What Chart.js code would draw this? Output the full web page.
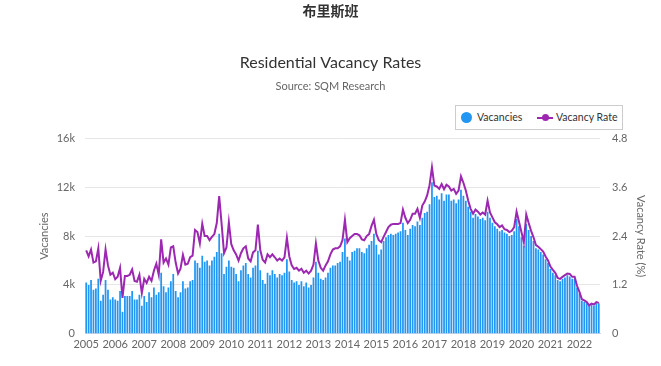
<!DOCTYPE html>
<html>
<head>
<meta charset="utf-8">
<script src="https://cdn.jsdelivr.net/npm/chart.js@4.4.0/dist/chart.umd.min.js"></script>
<style>
    body { margin: 0; background: #fff; }
    #wrap { position: relative; width: 661px; height: 366px; overflow: hidden; }
    #heading {
        position: absolute; left: 0; top: 0; width: 661px; text-align: center;
        font: bold 14px "Noto Sans CJK SC", sans-serif; color: #333;
    }
    #legend {
        position: absolute; left: 455px; top: 105px; width: 166px; height: 23px;
        border: 1px solid #ccc; background: #fff;
        font: 10.5px Lato, sans-serif; color: #333;
    }
    .item { position: absolute; top: 5px; line-height: 13px; white-space: nowrap; }
    .dot { position: absolute; border-radius: 50%; }
    .seg { position: absolute; height: 2px; }
</style>
</head>
<body>
<div id="wrap">
    <canvas id="chart" width="661" height="366"></canvas>
    <div id="heading">布里斯班</div>
    <div id="legend">
        <span class="dot" style="left:5px;top:6px;width:11px;height:11px;background:#2196f3"></span>
        <span class="item" style="left:21px">Vacancies</span>
        <span class="seg" style="left:81px;top:11px;width:16px;background:#9c27b0"></span>
        <span class="dot" style="left:85.5px;top:8px;width:7px;height:7px;background:#9c27b0"></span>
        <span class="item" style="left:100px">Vacancy Rate</span>
    </div>
</div>
<script>
// 축 눈금 라벨 (연도)
const years = ['2005', '2006', '2007', '2008', '2009', '2010', '2011', '2012', '2013',
    '2014', '2015', '2016', '2017', '2018', '2019', '2020', '2021', '2022'];

// 공실 수 (월별, 2005-01 ~ 2022-09)
const vacancies = [
    4200, 4000, 4400, 3600, 3700, 4500, 2700, 3200, 4400, 3600, 2800, 3000,
    2800, 2700, 3500, 1800, 3100, 3100, 3100, 3500, 2800, 2800, 3200, 2300,
    3100, 2600, 3400, 3000, 3800, 3200, 3400, 5000, 3900, 3400, 3800, 4300,
    4900, 3500, 3000, 3400, 4300, 3700, 3800, 4300, 4400, 6000, 5800, 5400,
    6400, 5900, 6000, 5600, 6000, 6300, 6700, 8200, 6600, 4900, 5500, 6000,
    5500, 5400, 4900, 4300, 5200, 5600, 5800, 4900, 4600, 5400, 5600, 6800,
    5200, 4400, 4100, 5000, 4800, 5200, 4900, 4600, 4900, 4800, 5000, 6100,
    5100, 4400, 4200, 4300, 4000, 4300, 3900, 4200, 3800, 4000, 4600, 5900,
    5000, 4500, 4400, 4600, 5000, 5400, 5600, 5600, 5800, 5900, 6700, 7800,
    6300, 6000, 6700, 6800, 7000, 7000, 6700, 6600, 7000, 7300, 7600, 8200,
    7300, 6500, 6900, 7600, 7900, 8100, 8200, 8100, 8200, 8300, 8400, 9100,
    8500, 8100, 8600, 8900, 8800, 9200, 8900, 9500, 9900, 10000, 10600, 12400,
    11200, 11300, 11000, 11500, 10900, 11400, 11400, 10900, 11000, 10700, 11000, 11800,
    11300, 10900, 10400, 10000, 9500, 9800, 9600, 9400, 9500, 9300, 10000, 9500,
    9100, 8800, 8600, 8400, 8500, 8300, 8200, 8000, 8100, 8400, 9400, 8800,
    7900, 7200, 9000, 8500, 8000, 7600, 7000, 6900, 6700, 6500, 6100, 5800,
    5300, 5000, 4800, 4400, 4300, 4500, 4600, 4800, 4700, 4500, 4500, 3800,
    3300, 2700, 2600, 2500, 2300, 2400, 2300, 2500, 2500
];

// 공실률 (%)
const vacancyRate = [
    2.05, 1.90, 2.07, 1.75, 1.78, 2.10, 1.30, 1.52, 2.07, 1.68, 1.45, 1.50,
    1.34, 1.40, 1.62, 0.88, 1.42, 1.42, 1.45, 1.58, 1.30, 1.28, 1.45, 1.00,
    1.35, 1.25, 1.40, 1.30, 1.55, 1.72, 1.45, 2.32, 1.75, 1.85, 1.70, 2.12,
    2.15, 1.75, 1.48, 1.60, 1.94, 1.70, 1.72, 1.88, 1.92, 2.55, 2.50, 2.22,
    2.70, 2.40, 2.40, 2.30, 2.38, 2.45, 2.72, 3.38, 2.70, 1.98, 2.12, 2.74,
    2.20, 2.05, 1.95, 1.80, 1.98, 2.10, 2.15, 1.85, 1.78, 2.00, 2.05, 2.68,
    2.05, 1.82, 1.75, 1.95, 1.88, 1.95, 1.88, 1.80, 1.85, 1.80, 1.88, 2.36,
    1.90, 1.68, 1.59, 1.62, 1.55, 1.60, 1.50, 1.55, 1.48, 1.55, 1.70, 2.22,
    1.80, 1.62, 1.55, 1.68, 1.78, 1.95, 2.07, 2.10, 2.10, 2.15, 2.30, 2.80,
    2.25, 2.35, 2.40, 2.45, 2.45, 2.42, 2.32, 2.30, 2.40, 2.45, 2.65, 2.80,
    2.45, 2.30, 2.25, 2.38, 2.50, 2.62, 2.68, 2.70, 2.70, 2.70, 2.72, 3.05,
    2.85, 2.72, 2.80, 2.95, 2.95, 3.07, 2.85, 3.15, 3.25, 3.40, 3.65, 4.09,
    3.64, 3.62, 3.56, 3.68, 3.55, 3.66, 3.62, 3.52, 3.56, 3.44, 3.52, 3.87,
    3.71, 3.52, 3.27, 3.07, 2.95, 3.05, 3.00, 2.93, 2.98, 2.93, 3.27, 2.98,
    2.86, 2.74, 2.69, 2.62, 2.66, 2.57, 2.55, 2.50, 2.53, 2.62, 3.00, 2.75,
    2.50, 2.25, 2.93, 2.72, 2.53, 2.37, 2.18, 2.14, 2.08, 2.02, 1.90, 1.80,
    1.65, 1.57, 1.50, 1.37, 1.35, 1.40, 1.44, 1.48, 1.47, 1.40, 1.40, 1.18,
    1.03, 0.85, 0.82, 0.78, 0.70, 0.74, 0.72, 0.78, 0.76
];

// 월별 카테고리 생성
const months = [];
years.forEach(y => {
    for (let m = 1; m <= 12; m++) months.push(y + '-' + (m < 10 ? '0' + m : m));
});
const labels = months.slice(0, vacancies.length);

const tickFont = { family: 'Lato, sans-serif', size: 11 };

new Chart(document.getElementById('chart'), {
    data: {
        labels: labels,
        datasets: [{
            type: 'line',
            label: 'Vacancy Rate',
            data: vacancyRate,
            yAxisID: 'y1',
            borderColor: '#9c27b0',
            borderWidth: 2,
            pointRadius: 0,
            tension: 0,
            order: 0
        }, {
            type: 'bar',
            label: 'Vacancies',
            data: vacancies,
            yAxisID: 'y',
            backgroundColor: '#2196f3',
            barPercentage: 0.72,
            categoryPercentage: 1,
            order: 1
        }]
    },
    options: {
        responsive: false,
        animation: false,
        layout: { padding: { top: 40, bottom: 11, left: 0, right: 0 } },
        plugins: {
            legend: { display: false },
            tooltip: { enabled: false },
            title: {
                display: true,
                text: 'Residential Vacancy Rates',
                color: '#333',
                font: { family: 'Lato, sans-serif', size: 16, weight: 'normal' },
                padding: { top: 13, bottom: 4 }
            },
            subtitle: {
                display: true,
                text: 'Source: SQM Research',
                color: '#666',
                font: { family: 'Lato, sans-serif', size: 11 },
                padding: { top: 4, bottom: 45 }
            }
        },
        scales: {
            x: {
                grid: { display: false, drawTicks: false },
                border: { display: true, color: '#ccd6eb' },
                ticks: {
                    autoSkip: false,
                    maxRotation: 0,
                    padding: 4,
                    color: '#666',
                    font: tickFont,
                    callback: function(value, index) {
                        const lb = labels[index];
                        return lb.endsWith('-01') ? lb.slice(0, 4) : '';
                    }
                }
            },
            y: {
                position: 'left',
                min: 0,
                max: 16000,
                afterFit: s => { s.width = 85; },
                grid: { color: '#e6e6e6', drawTicks: false },
                border: { display: false },
                ticks: {
                    stepSize: 4000,
                    padding: 10,
                    color: '#666',
                    font: tickFont,
                    callback: v => v === 0 ? '0' : (v / 1000) + 'k'
                },
                title: {
                    display: true,
                    text: 'Vacancies',
                    color: '#666',
                    font: tickFont,
                    padding: { top: 38, bottom: 0 }
                }
            },
            y1: {
                position: 'right',
                min: 0,
                max: 4.8,
                afterFit: s => { s.width = 61; },
                grid: { display: false, drawTicks: false },
                border: { display: false },
                ticks: {
                    stepSize: 1.2,
                    padding: 12,
                    color: '#666',
                    font: tickFont,
                    callback: v => v === 0 ? '0' : Number(v.toFixed(1)).toString()
                },
                title: {
                    display: true,
                    text: 'Vacancy Rate (%)',
                    color: '#666',
                    font: tickFont,
                    padding: { top: 14, bottom: 0 }
                }
            }
        }
    }
});
</script>
</body>
</html>
